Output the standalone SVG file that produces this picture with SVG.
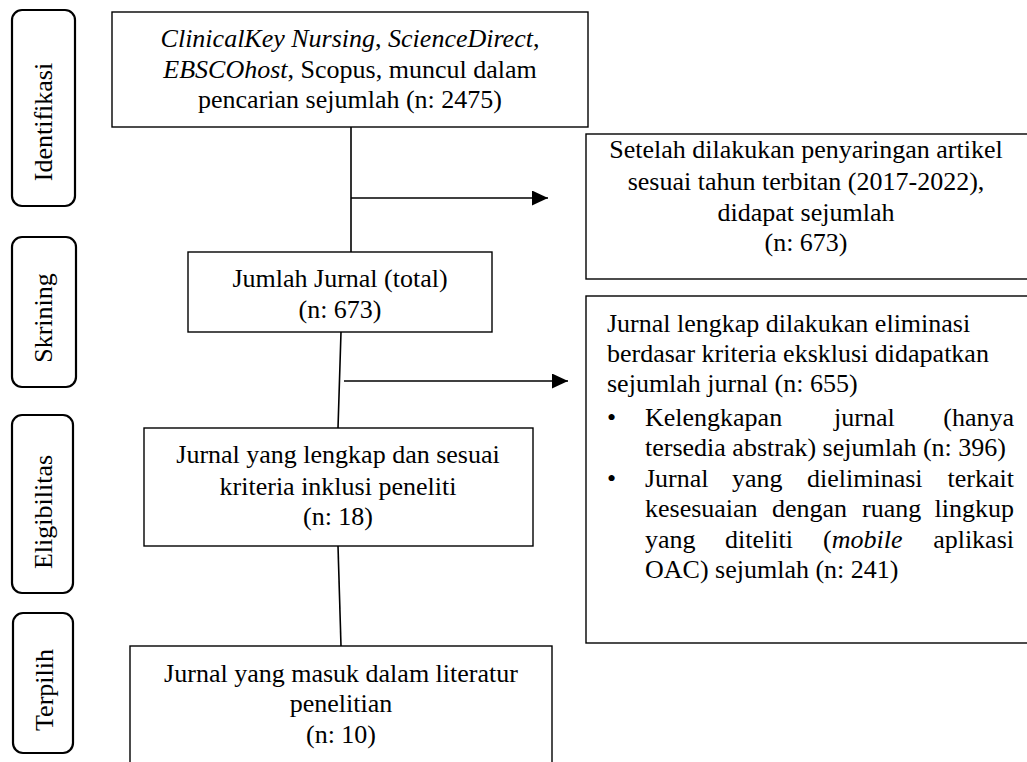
<svg xmlns="http://www.w3.org/2000/svg" width="1027" height="762" viewBox="0 0 1027 762">
<style>
text{font-family:"Liberation Serif","Times New Roman",serif;font-size:26px;fill:#000}
.c{text-anchor:middle}
.e{text-anchor:end}
.i{font-style:italic}
.box{fill:#fff;stroke:#000;stroke-width:1.4}
.side{fill:#fff;stroke:#000;stroke-width:2.2}
.ln{stroke:#000;stroke-width:1.6;fill:none}
</style>
<defs>
<marker id="ah" markerUnits="userSpaceOnUse" markerWidth="18" markerHeight="16" refX="16" refY="7.5" orient="auto">
<path d="M0,0 L16,7.5 L0,15 Z" fill="#000"/>
</marker>
</defs>
<rect width="1027" height="762" fill="#fff"/>

<g id="stage-identifikasi">
<rect class="side" x="12" y="10" width="63" height="196" rx="10"/>
<text class="c" transform="translate(52,122) rotate(-90)">Identifikasi</text>
</g>
<g id="stage-skrining">
<rect class="side" x="12" y="237" width="64" height="150" rx="10"/>
<text class="c" transform="translate(52,318) rotate(-90)">Skrining</text>
</g>
<g id="stage-eligibilitas">
<rect class="side" x="12" y="415" width="61" height="178" rx="10"/>
<text class="c" transform="translate(52,512) rotate(-90)">Eligibilitas</text>
</g>
<g id="stage-terpilih">
<rect class="side" x="13" y="613" width="60" height="140" rx="10"/>
<text class="c" transform="translate(53,690) rotate(-90)">Terpilih</text>
</g>

<g id="connectors">
<line class="ln" x1="351" y1="127" x2="351" y2="252"/>
<line class="ln" x1="351" y1="198" x2="548" y2="198" marker-end="url(#ah)"/>
<line class="ln" x1="341" y1="332" x2="338" y2="428"/>
<line class="ln" x1="344" y1="381" x2="568" y2="381" marker-end="url(#ah)"/>
<line class="ln" x1="338" y1="546" x2="341" y2="646"/>
</g>

<g id="node-search">
<rect class="box" x="112" y="12" width="476" height="115"/>
<text class="c" x="350" y="47"><tspan class="i">ClinicalKey Nursing</tspan>, <tspan class="i">ScienceDirect</tspan>,</text>
<text class="c" x="350" y="78"><tspan class="i">EBSCOhost</tspan>, Scopus, muncul dalam</text>
<text class="c" x="350" y="108">pencarian sejumlah (n: 2475)</text>
</g>

<g id="node-filter-year">
<rect class="box" x="586" y="134" width="445" height="145"/>
<text class="c" x="806" y="158">Setelah dilakukan penyaringan artikel</text>
<text class="c" x="806" y="190">sesuai tahun terbitan (2017-2022),</text>
<text class="c" x="806" y="221">didapat sejumlah</text>
<text class="c" x="806" y="251">(n: 673)</text>
</g>

<g id="node-total">
<rect class="box" x="188" y="252" width="304" height="80"/>
<text class="c" x="340" y="287">Jumlah Jurnal (total)</text>
<text class="c" x="340" y="318">(n: 673)</text>
</g>

<g id="node-excluded">
<rect class="box" x="586" y="296" width="445" height="347"/>
<text x="607" y="332">Jurnal lengkap dilakukan eliminasi</text>
<text x="607" y="362">berdasar kriteria eksklusi didapatkan</text>
<text x="607" y="392">sejumlah jurnal (n: 655)</text>
<text x="607" y="426">•</text>
<text x="645" y="426">Kelengkapan</text>
<text x="834" y="426">jurnal</text>
<text class="e" x="1014" y="426">(hanya</text>
<text x="645" y="456">tersedia abstrak) sejumlah (n: 396)</text>
<text x="607" y="487">•</text>
<text x="645" y="487">Jurnal</text>
<text x="732" y="487">yang</text>
<text x="807" y="487">dieliminasi</text>
<text class="e" x="1014" y="487">terkait</text>
<text x="645" y="517">kesesuaian</text>
<text x="772" y="517">dengan</text>
<text x="862" y="517">ruang</text>
<text class="e" x="1014" y="517">lingkup</text>
<text x="645" y="548">yang</text>
<text x="725" y="548">diteliti</text>
<text x="823" y="548">(<tspan class="i">mobile</tspan></text>
<text class="e" x="1014" y="548">aplikasi</text>
<text x="645" y="578">OAC) sejumlah (n: 241)</text>
</g>

<g id="node-eligible">
<rect class="box" x="144" y="428" width="389" height="118"/>
<text class="c" x="338" y="463">Jurnal yang lengkap dan sesuai</text>
<text class="c" x="338" y="495">kriteria inklusi peneliti</text>
<text class="c" x="338" y="525">(n: 18)</text>
</g>

<g id="node-included">
<rect class="box" x="130" y="646" width="422" height="130"/>
<text class="c" x="341" y="682">Jurnal yang masuk dalam literatur</text>
<text class="c" x="341" y="712">penelitian</text>
<text class="c" x="341" y="743">(n: 10)</text>
</g>
</svg>
